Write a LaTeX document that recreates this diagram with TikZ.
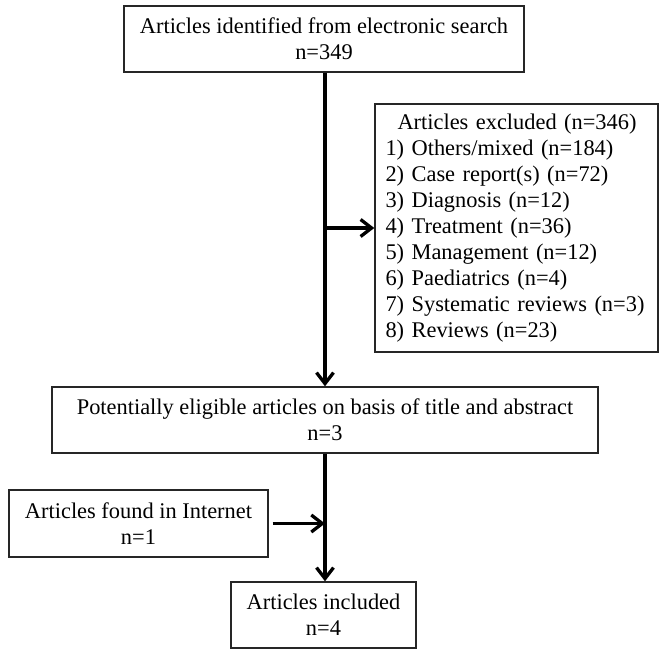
\documentclass[tikz,border=0pt]{standalone}
\usepackage{fontspec}
\setmainfont{Liberation Serif}
\usetikzlibrary{arrows.meta}

\begin{document}
\begin{tikzpicture}[x=1pt, y=-1pt,
    font=\fontsize{22.4}{26}\selectfont,
    box/.style={draw=black!85, line width=1.4pt, align=center, inner sep=0pt, minimum height=66pt},
    flow/.style={line width=3.3pt, -{Straight Barb[length=11pt, width=17pt]}}]
    \useasboundingbox (0,0) rectangle (662,650);

    % Top: search results
    \node[box, minimum width=400pt] (search) at (324,39) {Articles identified from electronic search\\n=349};

    % Right: exclusions
    \node[box, align=left, text width=262pt, inner xsep=10.5pt, minimum height=248pt] (excl) at (516.5,228) {%
        \hspace*{12pt}Articles excluded (n=346)\\
        1) Others/mixed (n=184)\\
        2) Case report(s) (n=72)\\
        3) Diagnosis (n=12)\\
        4) Treatment (n=36)\\
        5) Management (n=12)\\
        6) Paediatrics (n=4)\\
        7) Systematic reviews (n=3)\\
        8) Reviews (n=23)};

    % Middle: screened on title and abstract
    \node[box, minimum width=546pt] (elig) at (325,420) {Potentially eligible articles on basis of title and abstract\\n=3};

    % Bottom: extra source and final count
    \node[box, minimum width=259pt, minimum height=67pt] (inet) at (138.5,523.5) {Articles found in Internet\\n=1};
    \node[box, minimum width=185pt] (incl) at (323.5,615) {Articles included\\n=4};

    \coordinate (split) at (elig.north |- excl.west);
    \coordinate (join) at (elig.south |- inet.east);

    \draw[flow] (elig.north |- search.south) -- (elig.north);
    \draw[flow] (split) -- (excl.west);
    \draw[flow] (elig.south) -- (elig.south |- incl.north);
    \draw[flow] ([xshift=4pt]inet.east) -- (join);
\end{tikzpicture}
\end{document}
